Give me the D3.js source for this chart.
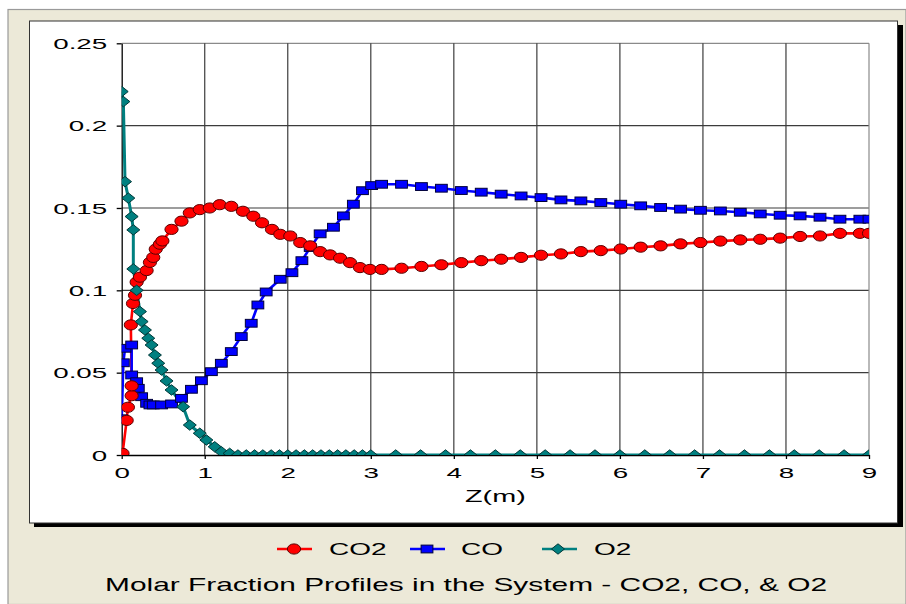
<!DOCTYPE html>
<html>
<head>
<meta charset="utf-8">
<script src="https://cdn.jsdelivr.net/npm/d3@7"></script>
<style>
  body { margin: 0; background: #fff; }
  text { font-family: "Liberation Sans", Arial, sans-serif; fill: #000; }
</style>
</head>
<body>
<svg id="chart" width="906" height="604"></svg>
<script>
// ---- data ----
const seriesNames = ["CO2", "CO", "O2"];

const co2Z = [0, 0.01, 0.06, 0.075, 0.12, 0.12, 0.11, 0.136, 0.16, 0.18, 0.22, 0.3, 0.34, 0.38, 0.41, 0.46, 0.49,
  0.6, 0.72, 0.82, 0.94, 1.06, 1.18, 1.32, 1.46, 1.585, 1.69, 1.81, 1.91, 2.03, 2.15, 2.27, 2.39, 2.51, 2.63,
  2.75, 2.87, 2.99, 3.13, 3.37, 3.61, 3.85, 4.09, 4.33, 4.57, 4.81, 5.05, 5.29, 5.53, 5.77, 6.01, 6.25, 6.49,
  6.73, 6.97, 7.21, 7.45, 7.69, 7.93, 8.17, 8.41, 8.65, 8.89, 9.0];
const co2Val = [0, 0.001, 0.021, 0.029, 0.036, 0.042, 0.079, 0.092, 0.097, 0.105, 0.108, 0.112, 0.117, 0.12, 0.125,
  0.128, 0.13, 0.137, 0.142, 0.147, 0.149, 0.15, 0.152, 0.151, 0.148, 0.145, 0.141, 0.137, 0.134, 0.133, 0.129,
  0.127, 0.1235, 0.1215, 0.1195, 0.1168, 0.1138, 0.1127, 0.1127, 0.1134, 0.1145, 0.1155, 0.1168, 0.118, 0.1189,
  0.12, 0.1213, 0.1221, 0.1235, 0.1241, 0.1251, 0.1262, 0.127, 0.1282, 0.129, 0.1299, 0.1306, 0.131, 0.1317,
  0.1327, 0.133, 0.1346, 0.1346, 0.1346];

const coZ = [0, 0.02, 0.04, 0.12, 0.12, 0.18, 0.2, 0.24, 0.3, 0.34, 0.38, 0.48, 0.6, 0.72, 0.84, 0.96, 1.08, 1.2,
  1.32, 1.44, 1.56, 1.64, 1.74, 1.91, 2.05, 2.17, 2.27, 2.39, 2.55, 2.67, 2.79, 2.9, 3.01, 3.13, 3.37, 3.61,
  3.85, 4.09, 4.33, 4.57, 4.81, 5.05, 5.29, 5.53, 5.77, 6.01, 6.25, 6.49, 6.73, 6.97, 7.21, 7.45, 7.69, 7.93,
  8.17, 8.41, 8.65, 8.89, 9.0];
const coVal = [0.022, 0.056, 0.0648, 0.0668, 0.0486, 0.0445, 0.0405, 0.0354, 0.0314, 0.0304, 0.0304, 0.0304, 0.031,
  0.0344, 0.0399, 0.0451, 0.0506, 0.0557, 0.0628, 0.0719, 0.08, 0.0911, 0.099, 0.1067, 0.1107, 0.118, 0.126,
  0.1343, 0.1383, 0.1452, 0.1523, 0.1605, 0.1636, 0.1644, 0.1644, 0.163, 0.162, 0.1606, 0.1596, 0.1584, 0.1573,
  0.1563, 0.1549, 0.1543, 0.1533, 0.1523, 0.1513, 0.1503, 0.1493, 0.1486, 0.1482, 0.1474, 0.1464, 0.1456,
  0.1452, 0.1444, 0.1432, 0.1432, 0.1432];

const o2Z = [0, 0.02, 0.04, 0.08, 0.12, 0.14, 0.14, 0.18, 0.22, 0.24, 0.28, 0.32, 0.36, 0.4, 0.44, 0.48, 0.54, 0.6,
  0.74, 0.82, 0.94, 1.02, 1.12, 1.2, 1.3, 1.4, 1.5, 1.6, 1.7, 1.8, 1.9, 2.0, 2.1, 2.2, 2.3, 2.4, 2.5, 2.6, 2.7,
  2.8, 2.9, 3.0, 3.3, 3.6, 3.9, 4.2, 4.5, 4.8, 5.1, 5.4, 5.7, 6.0, 6.3, 6.6, 6.9, 7.2, 7.5, 7.8, 8.1, 8.4, 8.7, 9.0];
const o2Val = [0.2207, 0.2146, 0.166, 0.156, 0.1448, 0.1367, 0.113, 0.1, 0.0871, 0.081, 0.0759, 0.0709, 0.0668,
  0.0607, 0.0557, 0.0516, 0.045, 0.0395, 0.0293, 0.0182, 0.0132, 0.0091, 0.005, 0.002, 0.001, 0, 0, 0, 0, 0, 0,
  0, 0, 0, 0, 0, 0, 0, 0, 0, 0, 0, 0, 0, 0, 0, 0, 0, 0, 0, 0, 0, 0, 0, 0, 0, 0, 0, 0, 0, 0, 0];

const xTicks = [0, 1, 2, 3, 4, 5, 6, 7, 8, 9];
const yTicks = [0, 0.05, 0.1, 0.15, 0.2, 0.25];
const yTickLabels = ["0", "0.05", "0.1", "0.15", "0.2", "0.25"];
const xTitle = "Z(m)";
const chartTitle = "Molar Fraction Profiles in the System - CO2, CO, & O2";

// ---- layout ----
const svg = d3.select("#chart");
const plot = { left: 121.7, right: 869, top: 43.3, bottom: 455 };
const x = d3.scaleLinear().domain([0, 9]).range([plot.left, plot.right]);
const y = d3.scaleLinear().domain([0, 0.25]).range([plot.bottom, plot.top]);

// window background
svg.append("rect").attr("x", 8).attr("y", 9.5).attr("width", 898).attr("height", 595)
  .attr("fill", "#ECE9D8").attr("stroke", "#9a9a9a").attr("stroke-width", 1.2);

// panel with shadow
svg.append("rect").attr("x", 34).attr("y", 25).attr("width", 869).attr("height", 502).attr("fill", "#000");
svg.append("rect").attr("x", 29.5).attr("y", 21).attr("width", 868).attr("height", 502)
  .attr("fill", "#fff").attr("stroke", "#333").attr("stroke-width", 1);

// grid
const grid = svg.append("g");
grid.selectAll(".hg").data(yTicks.slice(1)).enter().append("line")
  .attr("x1", plot.left).attr("x2", plot.right)
  .attr("y1", d => y(d)).attr("y2", d => y(d))
  .attr("stroke", (d, i) => i === yTicks.length - 2 ? "#8a8a8a" : "#3c3c3c").attr("stroke-width", 1.2);
grid.selectAll(".vg").data(xTicks.slice(1)).enter().append("line")
  .attr("x1", d => x(d)).attr("x2", d => x(d))
  .attr("y1", plot.top).attr("y2", plot.bottom)
  .attr("stroke", (d, i) => i === xTicks.length - 2 ? "#8a8a8a" : "#3c3c3c").attr("stroke-width", 1.2);

// axes
const yAxis = svg.append("g").attr("transform", `translate(${plot.left},0)`)
  .call(d3.axisLeft(y).tickValues(yTicks).tickSize(5).tickSizeOuter(0).tickFormat((d, i) => yTickLabels[i]));
yAxis.selectAll("text").attr("x", null).attr("dy", "0.35em")
  .attr("transform", "translate(-14.5,0) scale(1.85,1)")
  .style("font-size", "15px").style("font-family", '"Liberation Sans", Arial, sans-serif').attr("fill", "#000");

const xAxis = svg.append("g").attr("transform", `translate(0,${plot.bottom})`)
  .call(d3.axisBottom(x).tickValues(xTicks).tickSize(4).tickSizeOuter(0).tickFormat(d3.format("d")));
xAxis.selectAll("text").attr("y", null).attr("dy", "0.35em")
  .attr("transform", "translate(0,18) scale(1.85,1)")
  .style("font-size", "15px").style("font-family", '"Liberation Sans", Arial, sans-serif').attr("fill", "#000");
svg.selectAll(".domain, .tick line").attr("stroke", "#000").attr("stroke-width", 1.3);

// series
const clip = svg.append("clipPath").attr("id", "plotclip").append("rect")
  .attr("x", plot.left).attr("y", plot.top)
  .attr("width", plot.right - plot.left).attr("height", plot.bottom - plot.top);

const series = [
  { name: seriesNames[0], z: co2Z, v: co2Val, color: "#ff0000", edge: "#5a0000", shape: "circle", lw: 2.6 },
  { name: seriesNames[1], z: coZ, v: coVal, color: "#0000ff", edge: "#00003a", shape: "square", lw: 2.6 },
  { name: seriesNames[2], z: o2Z, v: o2Val, color: "#008080", edge: "#003838", shape: "diamond", lw: 3 }
];

function marker(sel, shape, color, edge) {
  if (shape === "circle") {
    sel.append("ellipse").attr("rx", 6.6).attr("ry", 5.1);
  } else if (shape === "square") {
    sel.append("rect").attr("x", -5.9).attr("y", -3.9).attr("width", 11.8).attr("height", 7.8);
  } else {
    sel.append("path").attr("d", "M-6.5,0L0,-5.2L6.5,0L0,5.2Z");
  }
  sel.selectAll("*").attr("fill", color).attr("stroke", edge).attr("stroke-width", 1);
}

const plotG = svg.append("g").attr("clip-path", "url(#plotclip)");
const line = d3.line().x(d => x(d[0])).y(d => y(d[1]));

series.forEach(s => {
  const pts = s.z.map((z, i) => [z, s.v[i]]);
  plotG.append("path").datum(pts).attr("d", line)
    .attr("fill", "none").attr("stroke", s.color).attr("stroke-width", s.lw).attr("stroke-linejoin", "round");
});

[series[1], series[0], series[2]].forEach(s => {
  const pts = s.z.map((z, i) => [z, s.v[i]]);
  plotG.append("g").selectAll("g").data(pts).enter().append("g")
    .attr("transform", d => `translate(${x(d[0])},${y(d[1])})`)
    .each(function () { marker(d3.select(this), s.shape, s.color, s.edge); });
});

// axis title
svg.append("text").attr("text-anchor", "middle").attr("dy", "0.35em")
  .attr("transform", `translate(${(plot.left + plot.right) / 2},496) scale(1.8,1)`)
  .style("font-size", "16px").text(xTitle);

// legend
const legendPos = [{ lx: 277, mx: 294, tx: 329 }, { lx: 410, mx: 427, tx: 461 }, { lx: 542, mx: 558, tx: 594 }];
series.forEach((s, i) => {
  const p = legendPos[i];
  svg.append("line").attr("x1", p.lx).attr("x2", p.lx + 35).attr("y1", 549).attr("y2", 549)
    .attr("stroke", s.color).attr("stroke-width", 2.6);
  const m = svg.append("g").attr("transform", `translate(${p.mx},549)`);
  marker(m, s.shape, s.color, s.edge);
  svg.append("text").attr("dy", "0.35em")
    .attr("transform", `translate(${p.tx},549) scale(1.75,1)`)
    .style("font-size", "16px").text(s.name);
});

// title
svg.append("text").attr("dy", "0.35em")
  .attr("transform", "translate(105,585) scale(1.66,1)")
  .style("font-size", "18px").text(chartTitle);
</script>
</body>
</html>
